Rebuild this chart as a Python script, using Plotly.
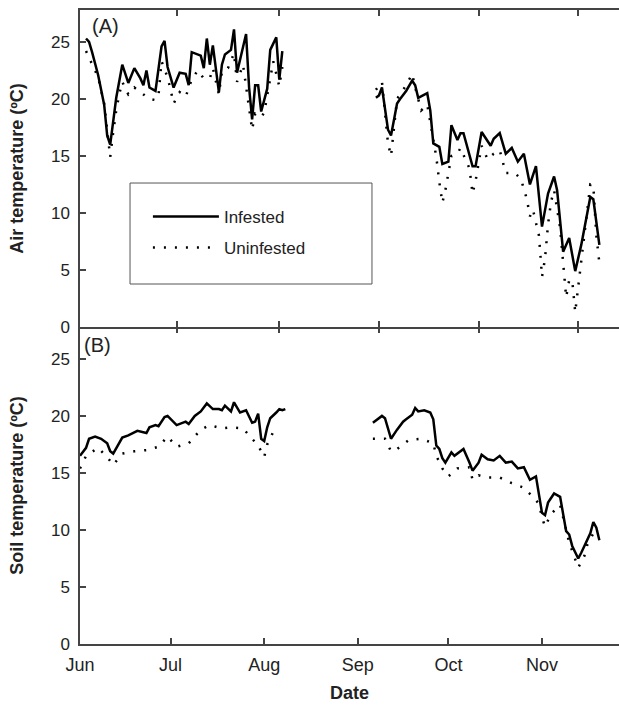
import plotly.graph_objects as go
import pandas as pd

START = pd.Timestamp("2009-06-01")

# ---------------- data (day offset from 1 June, value in °C) ----------------
air_inf_days_1 = [2, 3, 4, 6, 8, 9, 10, 11, 12, 14, 16, 18, 20, 21, 22, 23, 25, 27, 28, 29,
                  31, 33, 35, 36, 37, 40, 41, 42, 43, 44, 46, 47, 48, 50, 51, 52, 55, 56, 57, 58,
                  59, 60, 62, 63, 65, 66, 67]
air_inf_vals_1 = [25.3, 25.0, 24.1, 22.1, 19.5, 16.8, 16.0, 18.3, 20.1, 23.0, 21.4, 22.7, 21.8, 21.2, 22.5, 21.0, 20.7, 24.6, 25.1, 22.8,
                  21.0, 22.3, 22.2, 21.2, 24.1, 23.8, 22.7, 25.3, 23.0, 24.7, 20.6, 23.0, 23.9, 24.3, 26.1, 22.3, 25.7, 21.0, 18.2, 21.2,
                  21.2, 18.9, 20.9, 24.3, 25.4, 21.7, 24.2]
air_inf_days_2 = [98, 99, 100, 102, 103, 104, 105, 106, 108, 110, 111, 112, 115, 116, 117, 119, 120, 122, 123, 125,
                  126, 127, 130, 131, 133, 136, 137, 139, 141, 143, 145, 147, 149, 151, 153, 155, 157, 158, 160, 162,
                  164, 166, 167, 168, 169, 170, 171, 172]
air_inf_vals_2 = [20.1, 20.3, 21.0, 17.3, 16.8, 18.2, 19.6, 20.0, 20.7, 21.6, 21.2, 20.1, 20.5, 19.0, 16.1, 15.8, 14.3, 14.5, 17.7, 16.4,
                  17.0, 17.0, 14.1, 14.1, 17.1, 15.9, 16.5, 17.0, 15.2, 15.7, 14.5, 15.2, 12.5, 14.1, 8.8, 11.7, 13.2, 12.0, 6.6, 7.8,
                  4.9, 7.2, 8.6, 10.2, 11.4, 11.2, 9.0, 7.2]

air_uninf_days_1 = [2, 4, 6, 8, 9, 10, 11, 12, 13, 14, 16, 18, 20, 22, 23, 25, 26, 27, 28, 29,
                    30, 31, 33, 35, 37, 39, 41, 43, 44, 46, 47, 49, 51, 52, 54, 55, 57, 58, 60, 61,
                    64, 66, 67]
air_uninf_vals_1 = [24.2, 23.1, 21.9, 19.6, 17.5, 14.9, 17.1, 19.0, 20.4, 21.5, 20.4, 21.0, 20.6, 20.2, 20.0, 19.9, 20.3, 23.3, 22.5, 21.9,
                    20.8, 19.6, 20.6, 20.2, 21.7, 22.5, 21.8, 21.8, 22.7, 20.4, 22.4, 22.7, 24.0, 21.5, 23.0, 21.0, 17.3, 18.7, 18.4, 18.8,
                    23.3, 21.1, 22.8]
air_uninf_days_2 = [98, 100, 102, 103, 104, 105, 108, 110, 111, 113, 115, 116, 118, 119, 120, 121, 122, 123, 125, 126,
                    128, 129, 130, 131, 133, 135, 137, 139, 141, 144, 146, 148, 149, 150, 152, 153, 154, 155, 156, 157,
                    159, 160, 161, 162, 163, 164, 165, 166, 168, 169, 170, 171, 172]
air_uninf_vals_2 = [20.8, 21.5, 16.1, 15.0, 17.5, 20.0, 21.2, 22.2, 21.0, 19.0, 19.5, 18.0, 14.9, 12.7, 10.9, 12.0, 13.5, 15.0, 15.2, 15.7,
                    14.5, 13.9, 11.7, 12.8, 15.9, 14.7, 15.2, 15.5, 13.5, 13.5, 13.0, 11.2, 9.7, 10.3, 8.0, 4.4, 6.0, 9.0, 11.0, 12.0,
                    8.7, 5.3, 2.6, 4.1, 4.1, 1.3, 3.5, 5.8, 10.5, 12.5, 12.4, 8.0, 5.6]

soil_inf_days_1 = [0, 2, 3, 5, 7, 9, 10, 11, 14, 16, 19, 21, 22, 23, 25, 26, 28, 29, 32, 35,
                   36, 38, 40, 42, 44, 46, 47, 48, 50, 51, 53, 55, 57, 58, 59, 60, 61, 62, 63, 65,
                   66, 67, 68]
soil_inf_vals_1 = [16.5, 17.2, 18.0, 18.2, 18.0, 17.6, 16.9, 16.7, 18.1, 18.3, 18.7, 18.6, 18.5, 19.0, 19.2, 19.1, 19.9, 20.0, 19.2, 19.5,
                   19.3, 20.0, 20.4, 21.1, 20.6, 20.6, 20.5, 20.9, 20.4, 21.2, 20.3, 20.5, 19.4, 19.5, 20.2, 18.0, 17.8, 19.0, 19.8, 20.3,
                   20.6, 20.5, 20.6]
soil_inf_days_2 = [97, 98, 100, 101, 103, 105, 107, 108, 110, 111, 112, 114, 116, 117, 118, 119, 120, 121, 123, 124,
                   126, 127, 129, 130, 132, 133, 135, 137, 139, 141, 143, 145, 147, 149, 151, 152, 153, 154, 155, 157,
                   159, 161, 162, 163, 165, 166, 169, 170, 171, 172]
soil_inf_vals_2 = [19.4, 19.6, 20.0, 19.8, 18.0, 18.8, 19.5, 19.7, 20.1, 20.7, 20.4, 20.5, 20.3, 19.7, 17.4, 17.1, 16.3, 15.9, 16.8, 16.5,
                   16.9, 17.1, 15.9, 15.2, 15.9, 16.6, 16.2, 16.1, 16.5, 15.9, 16.0, 15.4, 15.5, 14.4, 14.7, 13.2, 11.5, 11.3, 12.4, 13.2,
                   12.9, 9.9, 9.6, 8.6, 7.5, 8.0, 9.7, 10.7, 10.2, 9.1]

soil_uninf_days_1 = [0, 2, 6, 9, 11, 14, 18, 22, 26, 29, 32, 36, 40, 43, 47, 50, 54, 56, 59, 61,
                     62, 64, 66]
soil_uninf_vals_1 = [15.4, 16.5, 17.2, 16.4, 15.7, 16.7, 16.9, 17.0, 17.3, 18.2, 17.3, 17.6, 18.8, 19.2, 18.9, 19.0, 18.9, 18.3, 17.4, 16.4,
                     17.5, 18.6, 18.6]
soil_uninf_days_2 = [97, 101, 103, 105, 109, 113, 117, 118, 120, 122, 125, 129, 130, 132, 135, 139, 143, 147, 150, 152,
                     153, 154, 156, 159, 162, 165, 167, 168, 170]
soil_uninf_vals_2 = [18.0, 18.0, 16.9, 17.1, 17.9, 18.0, 17.6, 16.5, 15.4, 14.7, 15.4, 15.5, 14.4, 14.8, 14.6, 14.6, 14.1, 13.7, 12.9, 12.3,
                     11.1, 10.3, 11.4, 12.2, 8.9, 6.7, 7.7, 8.7, 9.7]

month_ticks = ["2009-06-01", "2009-07-01", "2009-08-01", "2009-09-01", "2009-10-01", "2009-11-01"]
month_labels = ["Jun", "Jul", "Aug", "Sep", "Oct", "Nov"]
panel_ticks = ["2009-07-03", "2009-08-06", "2009-09-08", "2009-10-11", "2009-11-13"]
y_ticks = [0, 5, 10, 15, 20, 25]
X_RANGE = ["2009-06-01", "2009-11-26 12:00"]
Y_RANGE = [0, 27.8]
GAP_DAY = 80


def build(days1, vals1, days2, vals2):
    x = [START + pd.Timedelta(days=d) for d in days1]
    x += [START + pd.Timedelta(days=GAP_DAY)]
    x += [START + pd.Timedelta(days=d) for d in days2]
    y = list(vals1) + [None] + list(vals2)
    return x, y


FONT = "Liberation Sans, Arial, sans-serif"
AX = "#444444"
solid = dict(color="black", width=2.5)
dotted = dict(color="black", width=2.5, dash="2px,9px")

fig = go.Figure()
x, y = build(air_inf_days_1, air_inf_vals_1, air_inf_days_2, air_inf_vals_2)
fig.add_trace(go.Scatter(x=x, y=y, mode="lines", line=solid, name="Infested",
                         legendgroup="a", xaxis="x", yaxis="y"))
x, y = build(air_uninf_days_1, air_uninf_vals_1, air_uninf_days_2, air_uninf_vals_2)
fig.add_trace(go.Scatter(x=x, y=y, mode="lines", line=dotted, name="Uninfested",
                         legendgroup="b", xaxis="x", yaxis="y"))
x, y = build(soil_inf_days_1, soil_inf_vals_1, soil_inf_days_2, soil_inf_vals_2)
fig.add_trace(go.Scatter(x=x, y=y, mode="lines", line=solid, showlegend=False,
                         xaxis="x2", yaxis="y2"))
x, y = build(soil_uninf_days_1, soil_uninf_vals_1, soil_uninf_days_2, soil_uninf_vals_2)
fig.add_trace(go.Scatter(x=x, y=y, mode="lines", line=dotted, showlegend=False,
                         xaxis="x2", yaxis="y2"))
# empty helper trace so the top-edge tick axis of panel B is drawn
fig.add_trace(go.Scatter(x=[], y=[], showlegend=False, hoverinfo="skip",
                         xaxis="x3", yaxis="y2"))

yax = dict(range=Y_RANGE, tickvals=y_ticks, ticks="inside", ticklen=6, tickwidth=1.5,
           tickcolor=AX, showline=True, linecolor=AX, linewidth=1.5, showgrid=False, mirror=False,
           zeroline=False, tickfont=dict(size=17, color="#222"), ticklabelstandoff=5)

fig.update_layout(
    width=619, height=712,
    margin=dict(l=80, r=0, t=10, b=68),
    paper_bgcolor="white", plot_bgcolor="white",
    font=dict(family=FONT, color="#222"),
    xaxis=dict(domain=[0, 1], anchor="y", type="date", range=X_RANGE,
               tickvals=panel_ticks, ticks="inside", ticklen=6, tickwidth=1.5, tickcolor=AX,
               showticklabels=False, showline=True, mirror="ticks", linecolor=AX, linewidth=1.5,
               showgrid=False, zeroline=False),
    yaxis=dict(domain=[0.5, 1], anchor="x",
               title=dict(text="<b>Air temperature (ºC)</b>", font=dict(size=18), standoff=23),
               **yax),
    xaxis2=dict(domain=[0, 1], anchor="y2", type="date", range=X_RANGE,
                tickvals=month_ticks, ticktext=month_labels, ticks="inside", ticklen=6,
                tickwidth=1.5, tickcolor=AX, showline=True, mirror=False, linecolor=AX,
                linewidth=1.5, showgrid=False, zeroline=False, ticklabelstandoff=4,
                tickfont=dict(size=18, color="#222"),
                title=dict(text="<b>Date</b>", font=dict(size=18), standoff=12)),
    xaxis3=dict(overlaying="x2", anchor="y2", side="top", type="date", range=X_RANGE,
                tickvals=panel_ticks, ticks="inside", ticklen=6, tickwidth=1.5, tickcolor=AX,
                showticklabels=False, showline=False, showgrid=False, zeroline=False),
    yaxis2=dict(domain=[0, 0.5], anchor="x2",
                title=dict(text="<b>Soil temperature (ºC)</b>", font=dict(size=18), standoff=23),
                **yax),
    showlegend=True,
    legend=dict(x=0.126, y=0.702, xanchor="left", yanchor="top", bgcolor="rgba(0,0,0,0)",
                borderwidth=0, font=dict(size=17, color="#222"), tracegroupgap=6,
                itemwidth=66),
    shapes=[dict(type="rect", xref="paper", yref="paper", x0=0.0928, x1=0.5417,
                 y0=0.5678, y1=0.7271, line=dict(color="#555", width=1))],
    annotations=[
        dict(text="(A)", xref="paper", yref="paper", x=0.0186, y=0.975, xanchor="left",
             yanchor="middle", showarrow=False, font=dict(size=20, color="#222")),
        dict(text="(B)", xref="paper", yref="paper", x=0.0037, y=0.4716, xanchor="left",
             yanchor="middle", showarrow=False, font=dict(size=20, color="#222")),
    ],
)

fig.write_html(
    "out.html",
    config={"displayModeBar": False},
    post_script="document.body.style.margin='0';"
                "document.body.style.overflow='hidden';"
                "document.documentElement.style.overflow='hidden';",
)
